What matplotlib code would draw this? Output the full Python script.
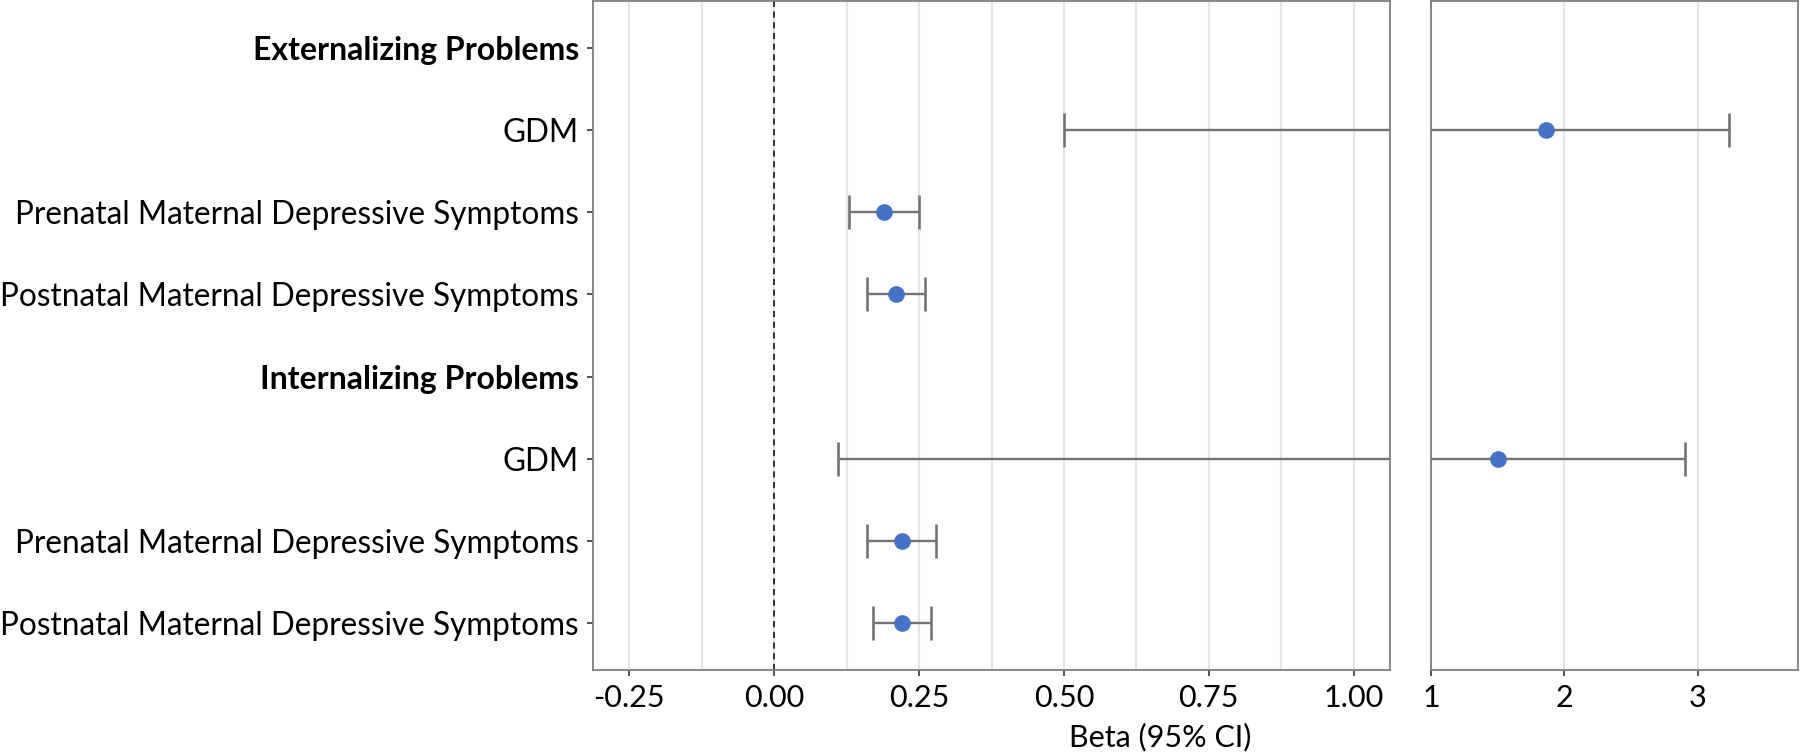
import numpy as np
import matplotlib
matplotlib.use("Agg")
import matplotlib.pyplot as plt

plt.rcParams['font.family'] = ['Lato', 'DejaVu Sans']

# rows, top to bottom
rows = ["Externalizing Problems", "GDM",
        "Prenatal Maternal Depressive Symptoms", "Postnatal Maternal Depressive Symptoms",
        "Internalizing Problems", "GDM",
        "Prenatal Maternal Depressive Symptoms", "Postnatal Maternal Depressive Symptoms"]
header_rows = ["Externalizing Problems", "Internalizing Problems"]
beta = [np.nan, 1.86, 0.19, 0.21, np.nan, 1.50, 0.22, 0.22]
lower = [np.nan, 0.50, 0.13, 0.16, np.nan, 0.11, 0.16, 0.17]
upper = [np.nan, 3.23, 0.25, 0.26, np.nan, 2.90, 0.28, 0.27]

left_ticks = [-0.25, 0.0, 0.25, 0.50, 0.75, 1.00]
left_minor = [-0.125, 0.125, 0.375, 0.625, 0.875]
right_ticks = [1, 2, 3]

W, H = 1800, 756
fig = plt.figure(figsize=(W/100, H/100), dpi=100)
ax1 = fig.add_axes([593/W, 1-670/H, 797/W, 669/H])
ax2 = fig.add_axes([1431/W, 1-670/H, 367/W, 669/H])

y = np.arange(len(rows))[::-1] + 1.0
beta = np.array(beta); lower = np.array(lower); upper = np.array(upper)
xerr = np.vstack([beta - lower, upper - beta])

pt_col = "#4472C4"
err_col = "#737373"
grid_col = "#e5e5e5"

for ax in (ax1, ax2):
    # full error bars on both panels, the panel limits clip them
    ax.errorbar(beta, y, xerr=xerr, fmt='none',
                ecolor=err_col, elinewidth=1.7, capsize=12, capthick=1.9, zorder=2)
    ax.plot(beta, y, 'o', color=pt_col, markersize=11, zorder=3)
    ax.set_ylim(0.43, len(rows) + 0.57)
    for s in ax.spines.values():
        s.set_color("#7f7f7f")
        s.set_linewidth(1.3)
    ax.tick_params(axis='x', labelsize=22, length=4, width=1.2, color="#333333", pad=6)
    ax.set_axisbelow(True)

# left panel
ax1.set_xlim(-0.3125, 1.0625)
ax1.set_xticks(left_ticks)
ax1.set_xticklabels([f"{t:.2f}" for t in left_ticks])
ax1.set_xticks(left_minor, minor=True)
ax1.tick_params(axis='x', which='minor', length=0)
ax1.grid(axis='x', which='both', color=grid_col, linewidth=1.5)
ax1.axvline(0, color='black', linestyle=(0, (4, 3)), linewidth=1.1, zorder=1)
ax1.set_yticks(y)
ax1.set_yticklabels(rows)
ax1.tick_params(axis='y', labelsize=22.7, length=4, width=1.2, color="#333333", pad=6)
for lab in ax1.get_yticklabels():
    if lab.get_text() in header_rows:
        lab.set_fontweight('bold')
        lab.set_fontsize(23)

# right panel
ax2.set_xlim(1.0, 3.75)
ax2.set_xticks(right_ticks)
ax2.set_xticklabels([str(t) for t in right_ticks])
ax2.grid(axis='x', which='major', color=grid_col, linewidth=1.5)
ax2.set_yticks([])

fig.text(1160/W, 1-737/H, "Beta (95% CI)", ha='center', va='center', fontsize=22)

fig.savefig("out.png", dpi=100)
